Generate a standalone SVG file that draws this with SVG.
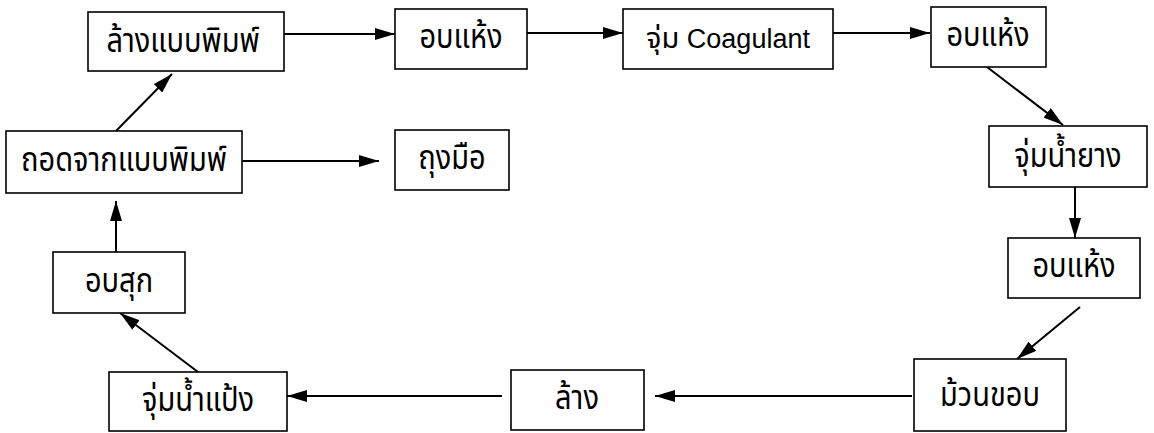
<svg xmlns="http://www.w3.org/2000/svg" width="1154" height="433" viewBox="0 0 1154 433">
<style>
.box{fill:#fff;stroke:#000;stroke-width:1.6}
.t{font-family:"Noto Sans Thai","DejaVu Sans","Liberation Sans",sans-serif;font-size:29px;fill:#000;text-anchor:middle}
.lat{font-family:"Liberation Sans",sans-serif;font-size:27px}
.c{stroke:#000;stroke-width:2;fill:none;marker-end:url(#ah)}
</style>
<defs>
<marker id="ah" viewBox="0 0 20 12" refX="20" refY="6" markerWidth="20" markerHeight="12" markerUnits="userSpaceOnUse" orient="auto">
<path d="M0,0 L20,6 L0,12 Z" fill="#000"/>
</marker>
</defs>
<rect width="1154" height="433" fill="#fff"/>
<g id="connectors">
<line class="c" x1="284" y1="34" x2="395" y2="34"/>
<line class="c" x1="527" y1="33" x2="623" y2="33"/>
<line class="c" x1="833" y1="33" x2="930" y2="33"/>
<line class="c" x1="987" y1="67" x2="1063" y2="125"/>
<line class="c" x1="1075" y1="187" x2="1075" y2="238"/>
<line class="c" x1="1080" y1="307" x2="1017" y2="359"/>
<line class="c" x1="912" y1="396" x2="655" y2="396"/>
<line class="c" x1="502" y1="396" x2="287" y2="396"/>
<line class="c" x1="198" y1="372" x2="120" y2="313"/>
<line class="c" x1="116" y1="252" x2="116" y2="201"/>
<line class="c" x1="116" y1="131" x2="172" y2="74"/>
<line class="c" x1="242" y1="161" x2="379" y2="161"/>
</g>
<g id="n1"><rect class="box" x="88" y="12" width="196" height="59"/><text class="t" transform="translate(183 52) scale(1 1.15)">ล้างแบบพิมพ์</text></g>
<g id="n2"><rect class="box" x="395" y="9" width="132" height="60"/><text class="t" transform="translate(461 48) scale(1 1.15)">อบแห้ง</text></g>
<g id="n3"><rect class="box" x="623" y="9" width="210" height="60"/><text class="t" x="728" y="48">จุ่ม <tspan class="lat">Coagulant</tspan></text></g>
<g id="n4"><rect class="box" x="931" y="7" width="115" height="60"/><text class="t" transform="translate(988 46) scale(1 1.15)">อบแห้ง</text></g>
<g id="n5"><rect class="box" x="989" y="126" width="158" height="61"/><text class="t" transform="translate(1068 167) scale(1 1.15)">จุ่มน้ำยาง</text></g>
<g id="n6"><rect class="box" x="1008" y="238" width="132" height="60"/><text class="t" transform="translate(1074 277) scale(1 1.15)">อบแห้ง</text></g>
<g id="n7"><rect class="box" x="914" y="359" width="152" height="72"/><text class="t" transform="translate(990 406) scale(1 1.15)">ม้วนขอบ</text></g>
<g id="n8"><rect class="box" x="511" y="370" width="133" height="60"/><text class="t" transform="translate(577 409) scale(1 1.15)">ล้าง</text></g>
<g id="n9"><rect class="box" x="109" y="372" width="178" height="59"/><text class="t" transform="translate(198 411) scale(1 1.15)">จุ่มน้ำแป้ง</text></g>
<g id="n10"><rect class="box" x="53" y="252" width="132" height="61"/><text class="t" transform="translate(119 292) scale(1 1.15)">อบสุก</text></g>
<g id="n11"><rect class="box" x="6" y="131" width="236" height="62"/><text class="t" transform="translate(124 171) scale(1 1.15)">ถอดจากแบบพิมพ์</text></g>
<g id="n12"><rect class="box" x="395" y="130" width="114" height="60"/><text class="t" transform="translate(452 169) scale(1 1.15)">ถุงมือ</text></g>
</svg>
